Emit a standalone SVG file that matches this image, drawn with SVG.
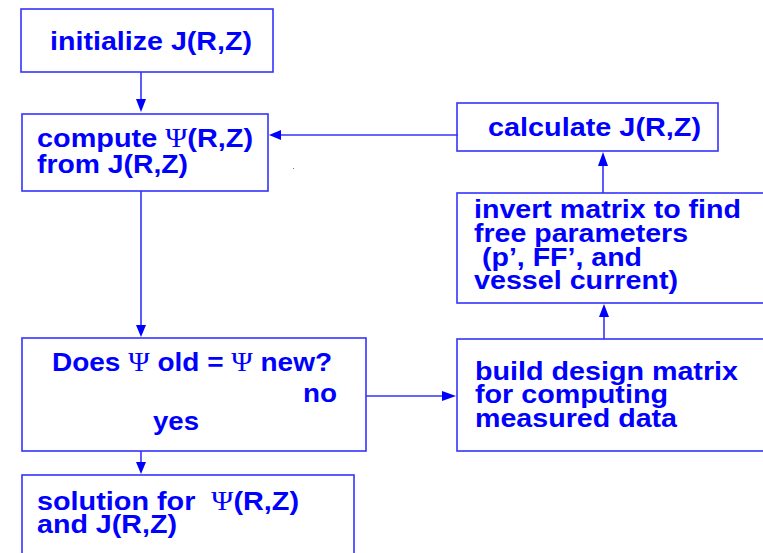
<svg xmlns="http://www.w3.org/2000/svg" width="763" height="553" viewBox="0 0 763 553">
<style>
.box{fill:#fff;stroke:#3333ff;stroke-width:1.6}
.t{font-family:"Liberation Sans",Arial,sans-serif;font-weight:bold;font-size:26px;fill:#0000ff}
.p{font-family:"Liberation Serif","Times New Roman",serif;font-weight:normal;font-size:27px}
.c{stroke:#3333ff;stroke-width:1.6;fill:none}
.h{fill:#0000ff}
</style>
<rect width="763" height="553" fill="#fff"/>
<g id="n1"><rect class="box" x="21" y="9" width="252" height="63"/>
<text class="t" x="50" y="50" textLength="202" lengthAdjust="spacingAndGlyphs">initialize J(R,Z)</text></g>
<g id="n2"><rect class="box" x="22" y="114" width="246" height="77"/>
<text class="t" x="37" y="147" textLength="216" lengthAdjust="spacingAndGlyphs">compute <tspan class="p">Ψ</tspan>(R,Z)</text>
<text class="t" x="37" y="173" textLength="151" lengthAdjust="spacingAndGlyphs">from J(R,Z)</text></g>
<g id="n3"><rect class="box" x="457" y="103" width="261" height="48"/>
<text class="t" x="488" y="136" textLength="213" lengthAdjust="spacingAndGlyphs">calculate J(R,Z)</text></g>
<g id="n4"><rect class="box" x="457" y="193" width="310" height="110"/>
<text class="t" x="474" y="218" textLength="267" lengthAdjust="spacingAndGlyphs">invert matrix to find</text>
<text class="t" x="474" y="242" textLength="214" lengthAdjust="spacingAndGlyphs">free parameters</text>
<text class="t" x="482" y="266" textLength="160" lengthAdjust="spacingAndGlyphs">(p’, FF’, and</text>
<text class="t" x="474" y="289" textLength="204" lengthAdjust="spacingAndGlyphs">vessel current)</text></g>
<g id="n5"><rect class="box" x="22" y="338" width="344" height="113"/>
<text class="t" x="52" y="371" textLength="280" lengthAdjust="spacingAndGlyphs">Does <tspan class="p">Ψ</tspan> old = <tspan class="p">Ψ</tspan> new?</text>
<text class="t" x="303" y="402" textLength="34" lengthAdjust="spacingAndGlyphs">no</text>
<text class="t" x="153" y="430" textLength="46" lengthAdjust="spacingAndGlyphs">yes</text></g>
<g id="n6"><rect class="box" x="457" y="339" width="310" height="112"/>
<text class="t" x="475" y="380" textLength="263" lengthAdjust="spacingAndGlyphs">build design matrix</text>
<text class="t" x="475" y="403" textLength="193" lengthAdjust="spacingAndGlyphs">for computing</text>
<text class="t" x="475" y="427" textLength="202" lengthAdjust="spacingAndGlyphs">measured data</text></g>
<g id="n7"><rect class="box" x="22" y="475" width="332" height="90"/>
<text class="t" x="37" y="510" textLength="262" lengthAdjust="spacingAndGlyphs" xml:space="preserve">solution for  <tspan class="p">Ψ</tspan>(R,Z)</text>
<text class="t" x="37" y="533" textLength="140" lengthAdjust="spacingAndGlyphs">and J(R,Z)</text></g>
<g id="connectors">
<line class="c" x1="141" y1="72" x2="141" y2="100"/><polygon class="h" points="136,99 146,99 141,112"/>
<line class="c" x1="458" y1="135" x2="280" y2="135"/><polygon class="h" points="281,130 281,140 269,135"/>
<line class="c" x1="141" y1="191" x2="141" y2="326"/><polygon class="h" points="136,325 146,325 141,337"/>
<line class="c" x1="141" y1="451" x2="141" y2="463"/><polygon class="h" points="136,462 146,462 141,474"/>
<line class="c" x1="366" y1="396" x2="444" y2="396"/><polygon class="h" points="442,391 442,401 456,396"/>
<line class="c" x1="604" y1="339" x2="604" y2="316"/><polygon class="h" points="599,317 609,317 604,304"/>
<line class="c" x1="603" y1="193" x2="603" y2="165"/><polygon class="h" points="598,166 608,166 603,152"/>
</g>
<rect x="293" y="168" width="1" height="1" fill="#6666ff"/>
</svg>
